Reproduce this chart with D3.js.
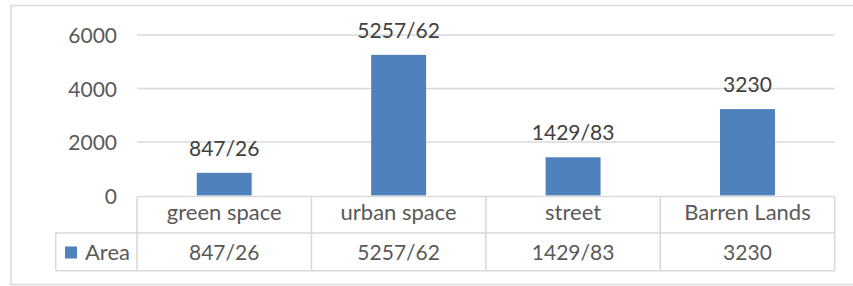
<!DOCTYPE html>
<html><head><meta charset="utf-8">
<script src="https://cdn.jsdelivr.net/npm/d3@7"></script>
<style>body{margin:0;background:#fff;}svg{display:block;}</style>
</head><body>
<svg id="c" width="853" height="286"></svg>
<script>
const categories = ["green space", "urban space", "street", "Barren Lands"];
const values = [847.26, 5257.62, 1429.83, 3230];
const valueLabels = ["847/26", "5257/62", "1429/83", "3230"];
const seriesName = "Area";
const yTicks = [0, 2000, 4000, 6000];

const svg = d3.select("#c");
const font = "Lato, 'Open Sans', sans-serif";
const grid = "#D9D9D9";
const barColor = "#4F81BD";

// outer border
svg.append("rect").attr("x", 11).attr("y", 5.5).attr("width", 852).attr("height", 279)
  .attr("fill", "#fff").attr("stroke", grid).attr("stroke-width", 1.5);

const x = d3.scaleBand().domain(categories).range([137, 834.7]).paddingInner(0).paddingOuter(0);
const y = d3.scaleLinear().domain([0, 6000]).range([195.5, 35]);

// gridlines
svg.append("g").selectAll("line").data(yTicks.filter(d => d > 0)).join("line")
  .attr("x1", 137).attr("x2", 834.7)
  .attr("y1", d => y(d)).attr("y2", d => y(d))
  .attr("stroke", grid).attr("stroke-width", 1.6);

// y axis labels
const yAxis = d3.axisLeft(y).tickValues(yTicks).tickSize(0).tickPadding(0).tickFormat(d3.format("d"));
const ga = svg.append("g").attr("transform", "translate(117,0)").call(yAxis);
ga.select(".domain").remove();
ga.selectAll("text").attr("font-family", font).attr("font-size", 21).attr("fill", "#595959")
  .attr("dy", "0.36em");

// bars
const bw = x.bandwidth() * 0.315;
svg.append("g").selectAll("rect").data(values).join("rect")
  .attr("x", (d, i) => x(categories[i]) + x.bandwidth() / 2 - bw / 2)
  .attr("width", bw)
  .attr("y", d => y(d))
  .attr("height", d => y(0) - y(d))
  .attr("fill", barColor);

// data labels
svg.append("g").selectAll("text").data(values).join("text")
  .attr("x", (d, i) => x(categories[i]) + x.bandwidth() / 2)
  .attr("y", d => y(d) - 17)
  .attr("text-anchor", "middle")
  .attr("font-family", font).attr("font-size", 21).attr("fill", "#404040")
  .text((d, i) => valueLabels[i]);

// data table
const tTop = 196.5, tMid = 233, tBot = 270.7, tLeft = 55.7;
const tl = svg.append("g").attr("stroke", grid).attr("stroke-width", 1.6);
tl.append("line").attr("x1", 137).attr("x2", 834.7).attr("y1", tTop).attr("y2", tTop);
tl.append("line").attr("x1", tLeft).attr("x2", 834.7).attr("y1", tMid).attr("y2", tMid);
tl.append("line").attr("x1", tLeft).attr("x2", 834.7).attr("y1", tBot).attr("y2", tBot);
tl.append("line").attr("x1", tLeft).attr("x2", tLeft).attr("y1", tMid).attr("y2", tBot);
const bounds = categories.map(c => x(c)).concat([x.range()[1]]);
tl.selectAll("line.v").data(bounds).join("line").attr("class", "v")
  .attr("x1", d => d).attr("x2", d => d).attr("y1", tTop).attr("y2", tBot);

svg.append("g").selectAll("text").data(categories).join("text")
  .attr("x", d => x(d) + x.bandwidth() / 2).attr("y", 220)
  .attr("text-anchor", "middle").attr("font-family", font).attr("font-size", 22)
  .attr("fill", "#595959").text(d => d);

svg.append("g").selectAll("text").data(valueLabels).join("text")
  .attr("x", (d, i) => x(categories[i]) + x.bandwidth() / 2).attr("y", 260)
  .attr("text-anchor", "middle").attr("font-family", font).attr("font-size", 21)
  .attr("fill", "#595959").text(d => d);

// legend key in table
svg.append("rect").attr("x", 65).attr("y", 246.5).attr("width", 12).attr("height", 12).attr("fill", barColor);
svg.append("text").attr("x", 85).attr("y", 260).attr("font-family", font).attr("font-size", 22)
  .attr("fill", "#595959").text(seriesName);
</script>
</body></html>
